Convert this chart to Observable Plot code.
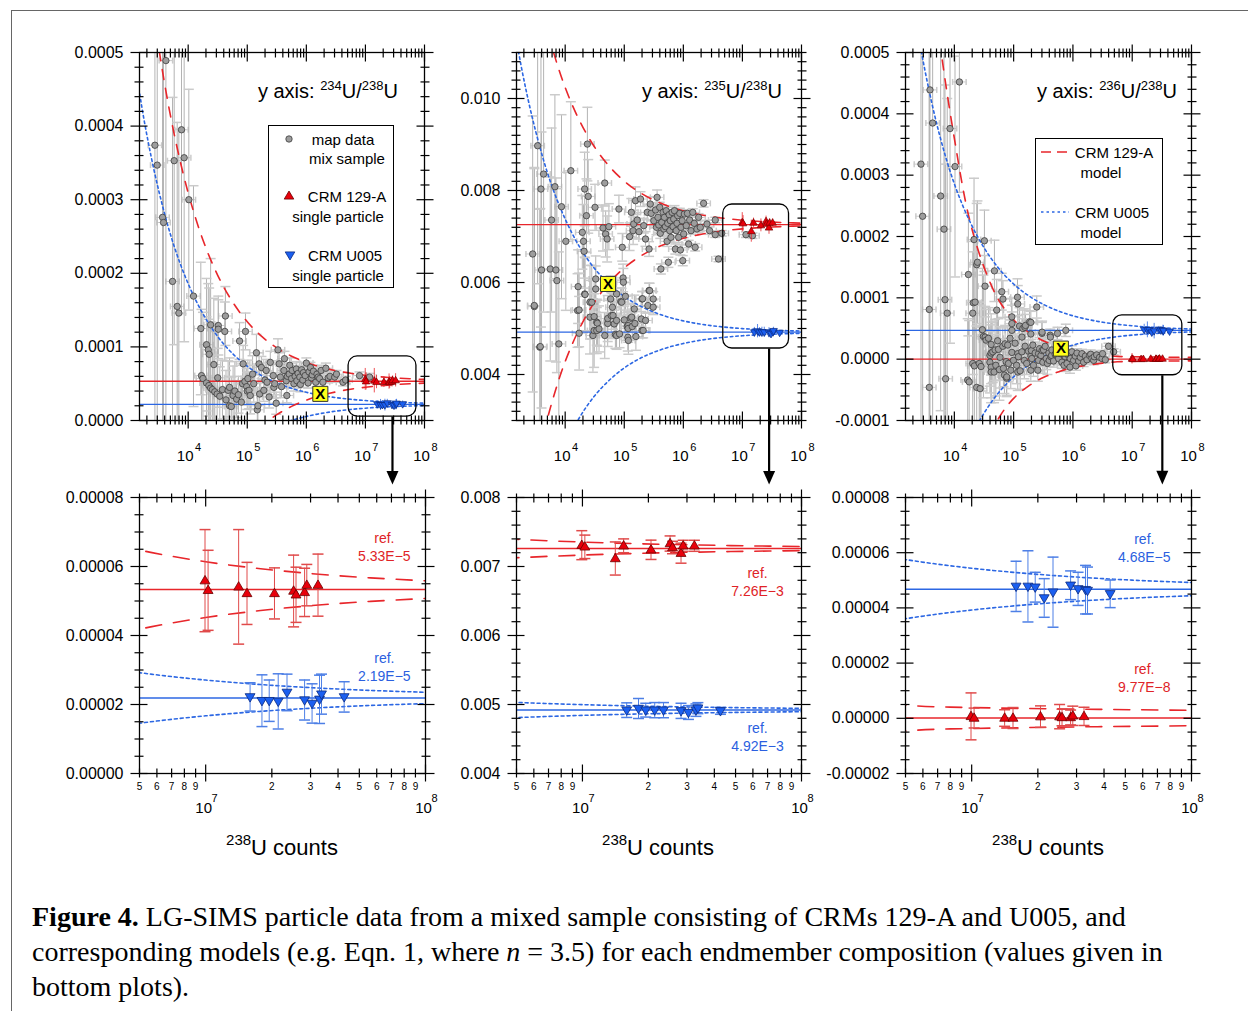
<!DOCTYPE html>
<html><head><meta charset="utf-8">
<script src="https://cdn.jsdelivr.net/npm/d3@7"></script>
<script src="https://cdn.jsdelivr.net/npm/@observablehq/plot@0.6"></script>
<style>
body{margin:0;background:#fff;}
#fig{position:relative;width:1248px;height:1011px;overflow:hidden;background:#fff;font-family:Arial,"Liberation Sans",Helvetica,sans-serif;color:#000;}
.abs{position:absolute;white-space:nowrap;}
.c{transform:translate(-50%,-50%);}
.sup{position:relative;font-size:13px;top:-8px;}
</style></head><body><div id="fig"></div>
<script>
// ---------------- DATA ----------------
// reference (endmember) ratios
const ref234 = [5.33e-5, 2.19e-5];   // [CRM 129-A, CRM U005]
const ref235 = [7.26e-3, 4.92e-3];
const ref236 = [9.77e-8, 4.68e-5];
const refLabels234 = ["5.33E\u22125", "2.19E\u22125"];
const refLabels235 = ["7.26E\u22123", "4.92E\u22123"];
const refLabels236 = ["9.77E\u22128", "4.68E\u22125"];

// model envelope: 238U counts and half-width of the envelope
const modelN = [1e3, 1.778e3, 3.162e3, 5.623e3, 1e4, 1.778e4, 3.162e4, 5.623e4, 1e5, 1.778e5, 3.162e5, 5.623e5, 1e6, 1.778e6, 3.162e6, 5.623e6, 1e7, 1.778e7, 3.162e7, 5.623e7, 1e8];
const dev234A = [8.08e-4, 6.06e-4, 4.54e-4, 3.41e-4, 2.56e-4, 1.92e-4, 1.44e-4, 1.08e-4, 8.08e-5, 6.06e-5, 4.54e-5, 3.41e-5, 2.56e-5, 1.92e-5, 1.44e-5, 1.08e-5, 8.08e-6, 6.06e-6, 4.54e-6, 3.41e-6, 2.56e-6];
const dev234U = [5.18e-4, 3.88e-4, 2.91e-4, 2.18e-4, 1.64e-4, 1.23e-4, 9.21e-5, 6.91e-5, 5.18e-5, 3.88e-5, 2.91e-5, 2.18e-5, 1.64e-5, 1.23e-5, 9.21e-6, 6.91e-6, 5.18e-6, 3.88e-6, 2.91e-6, 2.18e-6, 1.64e-6];
const dev235A = [9.43e-3, 7.07e-3, 5.30e-3, 3.98e-3, 2.98e-3, 2.24e-3, 1.68e-3, 1.26e-3, 9.43e-4, 7.07e-4, 5.30e-4, 3.98e-4, 2.98e-4, 2.24e-4, 1.68e-4, 1.26e-4, 9.43e-5, 7.07e-5, 5.30e-5, 3.98e-5, 2.98e-5];
const dev235U = [7.76e-3, 5.82e-3, 4.37e-3, 3.27e-3, 2.46e-3, 1.84e-3, 1.38e-3, 1.04e-3, 7.76e-4, 5.82e-4, 4.37e-4, 3.27e-4, 2.46e-4, 1.84e-4, 1.38e-4, 1.04e-4, 7.76e-5, 5.82e-5, 4.37e-5, 3.27e-5, 2.46e-5];
const dev236A = [1.6e-3, 1.1e-3, 7.3e-4, 5.2e-4, 3.6e-4, 2.3e-4, 1.5e-4, 9.6e-5, 6.4e-5, 4.4e-5, 3.0e-5, 2.1e-5, 1.35e-5, 1.0e-5, 6.5e-6, 4.4e-6, 3.8e-6, 3.45e-6, 3.2e-6, 3.0e-6, 2.8e-6];
const dev236U = [7.57e-4, 5.68e-4, 4.26e-4, 3.19e-4, 2.39e-4, 1.80e-4, 1.35e-4, 1.01e-4, 7.57e-5, 5.68e-5, 4.26e-5, 3.19e-5, 2.39e-5, 1.80e-5, 1.35e-5, 1.01e-5, 7.57e-6, 5.68e-6, 4.26e-6, 3.19e-6, 2.39e-6];

// single particles: log10(238U counts), ratio, 1-sigma error
const crmA_logN = [6.997, 7.011, 7.150, 7.188, 7.313, 7.400, 7.411, 7.450, 7.460, 7.511];
const crmA_r234 = [5.59e-5, 5.31e-5, 5.41e-5, 5.22e-5, 5.22e-5, 5.29e-5, 5.18e-5, 5.25e-5, 5.46e-5, 5.46e-5];
const crmA_e234 = [1.48e-5, 1.16e-5, 1.66e-5, 9.0e-6, 7.4e-6, 1.04e-5, 8.0e-6, 7.0e-6, 6.0e-6, 9.0e-6];
const crmA_r235 = [7.309e-3, 7.285e-3, 7.116e-3, 7.300e-3, 7.242e-3, 7.333e-3, 7.275e-3, 7.193e-3, 7.300e-3, 7.300e-3];
const crmA_e235 = [2.1e-4, 1.7e-4, 2.4e-4, 1.0e-4, 1.4e-4, 1.1e-4, 9e-5, 1.45e-4, 8e-5, 8e-5];
const crmA_r236 = [7e-7, 1e-7, 1e-7, 1e-7, 6e-7, 6e-7, 3e-7, 3e-7, 9e-7, 7e-7];
const crmA_e236 = [8.5e-6, 3.6e-6, 3.0e-6, 3.8e-6, 3.9e-6, 4.4e-6, 3.0e-6, 2.7e-6, 3.5e-6, 3.3e-6];
const crmU_logN = [7.202, 7.256, 7.289, 7.330, 7.370, 7.450, 7.484, 7.518, 7.527, 7.630];
const crmU_r234 = [2.22e-5, 2.11e-5, 2.11e-5, 2.09e-5, 2.35e-5, 2.13e-5, 2.03e-5, 2.15e-5, 2.30e-5, 2.22e-5];
const crmU_e234 = [4.1e-6, 7.5e-6, 6.0e-6, 8.0e-6, 5.3e-6, 5.8e-6, 5.7e-6, 7.0e-6, 5.8e-6, 4.4e-6];
const crmU_r235 = [4.918e-3, 4.942e-3, 4.918e-3, 4.918e-3, 4.918e-3, 4.908e-3, 4.884e-3, 4.918e-3, 4.947e-3, 4.908e-3];
const crmU_e235 = [1.06e-4, 1.45e-4, 1.0e-4, 1.1e-4, 1.1e-4, 1.1e-4, 1.0e-4, 9e-5, 8e-5, 5e-5];
const crmU_r236 = [4.78e-5, 4.78e-5, 4.75e-5, 4.36e-5, 4.57e-5, 4.82e-5, 4.69e-5, 4.66e-5, 4.63e-5, 4.51e-5];
const crmU_e236 = [9.1e-6, 1.29e-5, 5.4e-6, 7.0e-6, 1.27e-5, 5.2e-6, 6.0e-6, 8.8e-6, 8.5e-6, 5.0e-6];

// highlighted particle (yellow X): [log10 counts, ratio]
const markX234 = [6.237, 3.62e-5];
const markX235 = [4.725, 5.968e-3];
const markX236 = [5.797, 1.72e-5];

// map data, mix sample: [log10(238U counts), ratio]
const mix234 = [[3.437,3.74e-4],[3.476,3.47e-4],[3.566,2.76e-4],[3.583,2.69e-4],[3.623,4.89e-4],[3.735,1.89e-4],[3.763,3.53e-4],[3.814,1.55e-4],[3.842,1.46e-4],[3.887,3.95e-4],[3.932,3.57e-4],[4.011,3.0e-4],[4.09,1.69e-4],[4.214,1.25e-4],[4.225,6.1e-5],[4.25,5.7e-5],[4.31,1.03e-4],[4.31,5.1e-5],[4.34,9.6e-5],[4.35,4.75e-5],[4.355,9.0e-5],[4.38,1.30e-4],[4.38,4.4e-5],[4.41,4.2e-5],[4.434,7.6e-5],[4.45,3.9e-5],[4.49,3.6e-5],[4.50,5.8e-5],[4.51,1.29e-4],[4.51,1.24e-4],[4.535,3.3e-5],[4.58,4.2e-5],[4.62,1.21e-4],[4.63,1.42e-4],[4.64,2.8e-5],[4.676,4.1e-5],[4.70,4.5e-5],[4.70,2.0e-5],[4.73,1.9e-5],[4.76,3.4e-5],[4.79,4.0e-5],[4.82,2.9e-5],[4.85,3.5e-5],[4.87,1.08e-4],[4.90,2.5e-5],[4.92,5.0e-5],[4.93,7.7e-5],[4.96,5.3e-5],[4.97,1.21e-4],[4.99,4.6e-5],[5.0,4.0e-5],[5.01,5.7e-5],[5.03,4.1e-5],[5.05,3.4e-5],[5.09,6.3e-5],[5.11,5.0e-5],[5.155,9.2e-5],[5.17,1.45e-5],[5.18,2.0e-5],[5.20,7.7e-5],[5.21,3.6e-5],[5.24,7.2e-5],[5.28,4.1e-5],[5.30,5.5e-5],[5.32,6.8e-5],[5.335,5.2e-5],[5.37,3.2e-5],[5.39,7.9e-5],[5.44,6.1e-5],[5.45,4.5e-5],[5.465,5.0e-5],[5.49,2.35e-5],[5.52,9.6e-5],[5.54,7.7e-5],[5.56,5.9e-5],[5.58,4.6e-5],[5.62,6.8e-5],[5.63,8.4e-5],[5.66,5.4e-5],[5.67,3.4e-5],[5.68,6.0e-5],[5.71,6.3e-5],[5.72,7.5e-5],[5.75,5.7e-5],[5.76,6.8e-5],[5.79,5.0e-5],[5.81,6.0e-5],[5.83,7.0e-5],[5.84,5.4e-5],[5.86,6.4e-5],[5.89,5.9e-5],[5.90,4.9e-5],[5.92,6.9e-5],[5.94,5.5e-5],[5.95,6.5e-5],[5.98,6.1e-5],[6.00,7.8e-5],[6.03,5.1e-5],[6.045,6.6e-5],[6.07,7.2e-5],[6.085,5.8e-5],[6.10,6.2e-5],[6.12,6.7e-5],[6.16,5.2e-5],[6.18,6.3e-5],[6.20,5.9e-5],[6.225,5.7e-5],[6.25,6.8e-5],[6.28,5.2e-5],[6.33,7.1e-5],[6.37,5.8e-5],[6.40,6.0e-5],[6.48,5.9e-5],[6.51,6.3e-5],[6.62,5.2e-5],[6.665,5.5e-5],[6.90,6.1e-5],[7.07,5.9e-5]];
const mix235 = [[3.45,6.62e-3],[3.478,5.476e-3],[3.477,5.5e-3],[3.534,8.973e-3],[3.57,4.594e-3],[3.579,4.607e-3],[3.59,8.032e-3],[3.60,6.272e-3],[3.635,8.357e-3],[3.747,6.294e-3],[3.77,7.358e-3],[3.826,8.082e-3],[3.843,6.272e-3],[3.86,6.041e-3],[3.893,4.665e-3],[3.938,7.648e-3],[4.011,6.895e-3],[4.096,8.43e-3],[4.21,5.391e-3],[4.219,5.91e-3],[4.236,5.403e-3],[4.236,4.897e-3],[4.29,7.09e-3],[4.31,6.895e-3],[4.32,6.678e-3],[4.33,8.032e-3],[4.331,5.751e-3],[4.337,5.739e-3],[4.36,7.452e-3],[4.376,9.009e-3],[4.39,7.872e-3],[4.42,5.572e-3],[4.42,5.246e-3],[4.45,5.57e-3],[4.47,4.848e-3],[4.49,5.259e-3],[4.49,4.955e-3],[4.505,7.634e-3],[4.517,6.077e-3],[4.517,5.859e-3],[4.535,5.137e-3],[4.535,4.957e-3],[4.545,5.114e-3],[4.573,4.991e-3],[4.64,7.185e-3],[4.67,8.162e-3],[4.67,4.848e-3],[4.685,7.055e-3],[4.71,6.946e-3],[4.72,5.109e-3],[4.72,5.217e-3],[4.74,7.214e-3],[4.77,5.642e-3],[4.78,5.28e-3],[4.80,5.462e-3],[4.81,5.283e-3],[4.83,5.099e-3],[4.85,4.868e-3],[4.87,5.751e-3],[4.87,5.174e-3],[4.87,4.848e-3],[4.91,7.597e-3],[4.92,4.883e-3],[4.94,5.585e-3],[4.956,5.572e-3],[4.966,6.765e-3],[4.98,6.099e-3],[4.985,6.006e-3],[5.0,5.187e-3],[5.02,5.7e-3],[5.05,5.042e-3],[5.06,4.81e-3],[5.066,5.065e-3],[5.066,5.0e-3],[5.07,4.74e-3],[5.09,6.996e-3],[5.107,5.223e-3],[5.12,7.525e-3],[5.125,5.246e-3],[5.135,5.042e-3],[5.15,7.127e-3],[5.16,7.272e-3],[5.17,5.425e-3],[5.18,5.109e-3],[5.19,7.778e-3],[5.197,4.826e-3],[5.22,7.358e-3],[5.25,7.105e-3],[5.275,7.814e-3],[5.29,5.208e-3],[5.30,5.642e-3],[5.30,4.957e-3],[5.31,5.646e-3],[5.32,4.957e-3],[5.33,7.236e-3],[5.36,6.946e-3],[5.36,5.174e-3],[5.39,7.525e-3],[5.40,5.5e-3],[5.42,6.728e-3],[5.42,5.826e-3],[5.43,5.823e-3],[5.44,7.706e-3],[5.455,7.503e-3],[5.49,5.642e-3],[5.49,5.463e-3],[5.50,7.344e-3],[5.53,7.576e-3],[5.545,7.199e-3],[5.556,7.851e-3],[5.57,7.416e-3],[5.584,7.25e-3],[5.60,7.634e-3],[5.61,7.069e-3],[5.62,6.294e-3],[5.635,7.308e-3],[5.657,7.525e-3],[5.67,7.163e-3],[5.68,7.416e-3],[5.697,7.214e-3],[5.71,7.561e-3],[5.725,6.895e-3],[5.736,7.286e-3],[5.747,6.439e-3],[5.76,7.474e-3],[5.77,7.127e-3],[5.78,7.344e-3],[5.79,6.982e-3],[5.81,7.525e-3],[5.826,7.214e-3],[5.837,7.38e-3],[5.85,7.561e-3],[5.865,6.728e-3],[5.88,7.127e-3],[5.893,7.286e-3],[5.904,7.453e-3],[5.92,6.982e-3],[5.94,7.503e-3],[5.95,6.707e-3],[5.96,7.199e-3],[5.98,7.344e-3],[5.99,6.475e-3],[6.006,7.055e-3],[6.017,7.489e-3],[6.05,7.236e-3],[6.07,7.503e-3],[6.09,6.837e-3],[6.107,7.358e-3],[6.13,7.127e-3],[6.16,7.525e-3],[6.185,7.286e-3],[6.20,6.765e-3],[6.23,7.163e-3],[6.258,7.416e-3],[6.287,7.199e-3],[6.343,7.72e-3],[6.40,7.272e-3],[6.444,7.127e-3],[6.54,7.358e-3],[6.54,7.04e-3],[6.595,6.511e-3],[6.65,7.069e-3],[7.06,7.04e-3],[7.17,7.018e-3]];
const mix236 = [[3.437,3.18e-4],[3.465,2.33e-4],[3.577,8.1e-5],[3.577,-4.6e-5],[3.589,4.39e-4],[3.634,3.85e-4],[3.769,2.66e-4],[3.825,2.12e-4],[3.842,9.7e-5],[3.853,-3.2e-5],[3.88,7.5e-5],[3.927,3.76e-4],[4.011,3.14e-4],[4.085,4.52e-4],[4.225,-3.4e-5],[4.237,1.38e-4],[4.25,-3.7e-5],[4.31,7.5e-5],[4.31,-7e-6],[4.32,9.2e-5],[4.332,1.95e-4],[4.338,-1.1e-5],[4.35,9.3e-5],[4.377,1.54e-4],[4.377,-4.6e-5],[4.39,1.58e-4],[4.42,-7e-6],[4.434,-4.8e-5],[4.45,-1.2e-5],[4.473,4.8e-5],[4.49,3.7e-5],[4.507,1.93e-4],[4.518,1.19e-4],[4.52,3.6e-5],[4.535,3.1e-5],[4.575,3.4e-5],[4.60,6e-6],[4.60,-5e-6],[4.62,-1.3e-5],[4.62,2.4e-5],[4.62,1e-5],[4.62,-2.1e-5],[4.648,1.2e-5],[4.67,-2.1e-5],[4.676,1.44e-4],[4.687,1.5e-5],[4.70,-1.0e-5],[4.715,8.0e-5],[4.73,3.0e-5],[4.744,1.6e-5],[4.76,-1.7e-5],[4.77,3e-6],[4.80,1.10e-4],[4.817,2.1e-5],[4.82,9.8e-5],[4.828,-1.5e-5],[4.845,-2.6e-5],[4.856,2.5e-5],[4.873,-4e-6],[4.88,-3.1e-5],[4.884,-2.9e-5],[4.90,2.3e-5],[4.913,-7e-6],[4.94,3.4e-5],[4.952,-1.8e-5],[4.969,6.9e-5],[4.97,4.7e-5],[4.97,5.8e-5],[4.97,1.1e-5],[4.997,-2e-6],[5.025,2.6e-5],[5.05,-1.0e-5],[5.065,1.01e-4],[5.07,9.0e-5],[5.07,9e-6],[5.07,-2.1e-5],[5.08,4e-6],[5.10,5.4e-5],[5.11,-1.9e-5],[5.138,1.2e-5],[5.14,3.6e-5],[5.155,5.0e-5],[5.18,-2e-6],[5.19,5.2e-5],[5.194,2.1e-5],[5.20,5.5e-5],[5.22,-7e-6],[5.25,1.3e-5],[5.268,6.1e-5],[5.29,5e-6],[5.29,4.1e-5],[5.29,6.0e-5],[5.29,-1.8e-5],[5.30,1.4e-5],[5.307,1e-6],[5.324,2.3e-5],[5.335,-1.0e-5],[5.363,1.0e-5],[5.39,8.5e-5],[5.408,-1.8e-5],[5.42,-2e-6],[5.42,9e-6],[5.436,1.7e-5],[5.46,6e-6],[5.476,4.2e-5],[5.48,4.4e-5],[5.48,1.4e-5],[5.493,-5e-6],[5.504,1.5e-5],[5.532,2.1e-5],[5.55,1e-6],[5.57,-7e-6],[5.594,1.0e-5],[5.60,-2e-6],[5.617,3.9e-5],[5.62,3.6e-5],[5.628,4e-6],[5.64,6e-6],[5.645,1.5e-5],[5.673,-3e-6],[5.70,8e-6],[5.73,1.6e-5],[5.74,4.2e-5],[5.758,1e-6],[5.786,9e-6],[5.814,-5e-6],[5.842,1.2e-5],[5.85,-1e-5],[5.87,4e-6],[5.88,4.7e-5],[5.90,-7e-6],[5.927,6e-6],[5.95,-1.3e-5],[5.955,1e-6],[5.983,1.2e-5],[6.011,-2e-6],[6.04,5e-6],[6.05,-1.1e-5],[6.068,1.0e-5],[6.096,-3e-6],[6.124,3e-6],[6.152,9e-6],[6.18,-5e-6],[6.21,5e-6],[6.237,-1e-6],[6.28,6e-6],[6.30,8e-6],[6.32,1e-6],[6.35,-2e-6],[6.36,4e-6],[6.40,7e-6],[6.45,3e-6],[6.49,1e-6],[6.50,9e-6],[6.546,-1e-6],[6.60,2.1e-5],[6.687,1.2e-5]];
// vertical error of map data by count band (upper log10 bound of each band)
const errBandTop = [3.7, 3.95, 4.2, 4.5, 4.8, 5.2, 5.6, 6.0, 6.5, 9];
const mixErr234 = [6e-4, 2.5e-4, 1.5e-4, 9e-5, 4e-5, 2.5e-5, 1.5e-5, 1e-5, 7e-6, 5e-6];
const mixErr235 = [3e-3, 2e-3, 1.5e-3, 8e-4, 5e-4, 3e-4, 1.6e-4, 1.1e-4, 8e-5, 6e-5];
const mixErr236 = [7e-4, 3.5e-4, 1.8e-4, 1e-4, 5e-5, 3e-5, 1.8e-5, 1e-5, 7e-6, 5e-6];
const mixXErr = 1.3; // multiplicative error on counts

// axis tick values
const decades = [1e3, 1e4, 1e5, 1e6, 1e7, 1e8];
const yMajTL = [0, 1e-4, 2e-4, 3e-4, 4e-4, 5e-4];
const yMajTM = [0.004, 0.006, 0.008, 0.010];
const yMajTR = [-1e-4, 0, 1e-4, 2e-4, 3e-4, 4e-4, 5e-4];
const yMajBL = [0, 2e-5, 4e-5, 6e-5, 8e-5];
const yMajBM = [0.004, 0.005, 0.006, 0.007, 0.008];
const yMajBR = [-2e-5, 0, 2e-5, 4e-5, 6e-5, 8e-5];

// ---------------- DRAWING ----------------
const FONT = 'Arial, "Liberation Sans", Helvetica, sans-serif';
const RED = "#e8262b", BLUE = "#2c67e3", RED_T = "#e02327", BLUE_T = "#2b5fe0";
const fig = document.getElementById("fig");

const R = s => Math.sqrt(s / Math.PI);
const hcap = {draw(c, s) { const r = R(s); c.moveTo(-r, 0); c.lineTo(r, 0); }};
const vcap = {draw(c, s) { const r = R(s); c.moveTo(0, -r); c.lineTo(0, r); }};
const triUp = {draw(c, s) { const r = R(s); c.moveTo(0, -r); c.lineTo(r * 0.95, r * 0.62); c.lineTo(-r * 0.95, r * 0.62); c.closePath(); }};
const triDown = {draw(c, s) { const r = R(s); c.moveTo(0, r); c.lineTo(r * 0.95, -r * 0.62); c.lineTo(-r * 0.95, -r * 0.62); c.closePath(); }};
const arrowHead = {draw(c, s) { const r = R(s); c.moveTo(0, 0); c.lineTo(-r * 0.75, -r * 1.7); c.lineTo(r * 0.75, -r * 1.7); c.closePath(); }};

function bandErr(l, errs) { const i = errBandTop.findIndex(b => l < b); return errs[i < 0 ? errs.length - 1 : i]; }
const mixRows = (pts, errs) => pts.map(([l, v]) => { const n = 10 ** l, e = bandErr(l, errs); return {n, v, lo: v - e, hi: v + e, nlo: n / mixXErr, nhi: n * mixXErr}; });
const spRows = (ls, vs, es) => ls.map((l, i) => ({n: 10 ** l, v: vs[i], lo: vs[i] - es[i], hi: vs[i] + es[i]}));
const modelRows = (dev, ref) => modelN.map((n, i) => ({n, up: ref + dev[i], lo: ref - dev[i]}));

function axisMarks(p) {
  const [x0, x1] = p.xDomain, [y0, y1] = p.yDomain;
  const xMaj = decades.filter(v => v >= x0 && v <= x1 * 1.0001);
  const xMin = [];
  for (let e = 3; e < 8; e++) for (let m = 2; m <= 9; m++) { const v = m * 10 ** e; if (v >= x0 && v <= x1) xMin.push(v); }
  const yMin = [];
  const nStep = Math.round((y1 - y0) / p.yMinorStep);
  for (let i = 0; i <= nStep; i++) { const v = +(y0 + i * p.yMinorStep).toPrecision(8); if (!p.yMajor.some(m => Math.abs(m - v) < p.yMinorStep / 10)) yMin.push(v); }
  const out = [];
  const tk = (anchor, ticks, size, extra = {}) => (anchor === "left" || anchor === "right" ? Plot.axisY : Plot.axisX)({anchor, ticks, tickSize: size, tickFormat: () => "", label: null, strokeWidth: 1.2, ...extra});
  for (const [tx, ty, s] of [[xMaj, p.yMajor, 8.5], [xMin, yMin, 4.5]]) {
    out.push(tk("bottom", tx, s), tk("bottom", tx, s, {dy: -s}), tk("top", tx, s), tk("top", tx, s, {dy: s}));
    out.push(tk("left", ty, s), tk("left", ty, s, {dx: s}), tk("right", ty, s), tk("right", ty, s, {dx: -s}));
  }
  out.push(Plot.axisY({anchor: "left", ticks: p.yMajor, tickSize: 0, tickPadding: 16, tickFormat: p.yFmt, fontSize: 16, label: null}));
  out.push(Plot.axisX({anchor: "bottom", ticks: xMaj, tickSize: 0, tickPadding: p.tenPad, tickFormat: () => "10", dx: p.tenDx, fontSize: 15, label: null}));
  out.push(Plot.axisX({anchor: "bottom", ticks: xMaj, tickSize: 0, tickPadding: p.expPad, tickFormat: d => String(Math.round(Math.log10(d))), dx: p.expDx, fontSize: 11, label: null}));
  if (p.minorLabels) {
    const lab = xMin.map(v => ({v, t: String(Math.round(v / 10 ** Math.floor(Math.log10(v) + 1e-9)))}));
    out.push(Plot.text(lab, {x: "v", text: "t", frameAnchor: "bottom", lineAnchor: "top", dy: 9.5, fontSize: 10, fill: "black"}));
  }
  out.push(Plot.frame({stroke: "black", strokeWidth: 1.3}));
  return out;
}

function draw(p) {
  const chart = Plot.plot({
    width: p.mL + p.fw + 20, height: p.mT + p.fh + p.mB,
    marginLeft: p.mL, marginRight: 20, marginTop: p.mT, marginBottom: p.mB,
    x: {type: "log", domain: p.xDomain, axis: null},
    y: {domain: p.yDomain, axis: null},
    style: {background: "transparent", overflow: "visible", fontFamily: FONT, color: "black"},
    marks: [...p.marks, ...axisMarks(p)]
  });
  chart.style.position = "absolute";
  chart.style.left = p.left + "px";
  chart.style.top = p.top + "px";
  fig.appendChild(chart);
}

function topMarks(iso) {
  const rows = mixRows(iso.mix, iso.mixErr);
  const A = spRows(crmA_logN, iso.rA, iso.eA), U = spRows(crmU_logN, iso.rU, iso.eU);
  const mA = modelRows(iso.devA, iso.ref[0]), mU = modelRows(iso.devU, iso.ref[1]);
  const capC = "#cbcbcb", vC = "#b3b3b3";
  return [
    Plot.ruleY(rows, {y: "v", x1: "nlo", x2: "nhi", stroke: capC, strokeWidth: 1, clip: true}),
    Plot.dot(rows, {x: "nlo", y: "v", symbol: vcap, r: 3, fill: "none", stroke: capC, clip: true}),
    Plot.dot(rows, {x: "nhi", y: "v", symbol: vcap, r: 3, fill: "none", stroke: capC, clip: true}),
    Plot.ruleX(rows, {x: "n", y1: "lo", y2: "hi", stroke: vC, strokeWidth: 1, clip: true}),
    Plot.dot(rows, {x: "n", y: "lo", symbol: hcap, r: 5, fill: "none", stroke: capC, clip: true}),
    Plot.dot(rows, {x: "n", y: "hi", symbol: hcap, r: 5, fill: "none", stroke: capC, clip: true}),
    Plot.ruleY([iso.ref[0]], {stroke: RED, strokeWidth: 1.3}),
    Plot.ruleY([iso.ref[1]], {stroke: BLUE, strokeWidth: 1.3}),
    Plot.line(mA, {x: "n", y: "up", stroke: RED, strokeWidth: 1.6, strokeDasharray: "10,9", curve: "catmull-rom", clip: true}),
    Plot.line(mA, {x: "n", y: "lo", stroke: RED, strokeWidth: 1.6, strokeDasharray: "10,9", curve: "catmull-rom", clip: true}),
    Plot.line(mU, {x: "n", y: "up", stroke: BLUE, strokeWidth: 1.6, strokeDasharray: "2.5,3", curve: "catmull-rom", clip: true}),
    Plot.line(mU, {x: "n", y: "lo", stroke: BLUE, strokeWidth: 1.6, strokeDasharray: "2.5,3", curve: "catmull-rom", clip: true}),
    Plot.dot(rows, {x: "n", y: "v", r: 3.2, fill: "#9d9d9d", stroke: "#3c3c3c", strokeWidth: 0.8, clip: true}),
    Plot.ruleX(A, {x: "n", y1: "lo", y2: "hi", stroke: RED, strokeWidth: 0.8}),
    Plot.ruleX(U, {x: "n", y1: "lo", y2: "hi", stroke: BLUE, strokeWidth: 0.8}),
    Plot.dot(A, {x: "n", y: "v", symbol: triUp, r: 4, fill: "#e8000b", stroke: "#7a0000", strokeWidth: 0.7}),
    Plot.dot(U, {x: "n", y: "v", symbol: triDown, r: 4, fill: "#1b5ff0", stroke: "#0a2a80", strokeWidth: 0.7}),
    Plot.dot([iso.markX], {x: d => 10 ** d[0], y: d => d[1], symbol: "square", r: 8.5, fill: "#ffff1a", stroke: "#333", strokeWidth: 1}),
    Plot.text([iso.markX], {x: d => 10 ** d[0], y: d => d[1], text: () => "X", fontSize: 15, fontWeight: "bold", fill: "black"}),
    Plot.rect([iso.box], {x1: d => d.x1, x2: d => d.x2, y1: d => d.y1, y2: d => d.y2, rx: 9, fill: "none", stroke: "black", strokeWidth: 1.3}),
    Plot.link([iso.arrow], {x1: d => d.x, x2: d => d.x, y1: d => d.y1, y2: d => d.y2, stroke: "black", strokeWidth: 2.2}),
    Plot.dot([iso.arrow], {x: d => d.x, y: d => d.tip, symbol: arrowHead, r: 8, fill: "black", stroke: "none"})
  ];
}

function bottomMarks(iso) {
  const A = spRows(crmA_logN, iso.rA, iso.eA), U = spRows(crmU_logN, iso.rU, iso.eU);
  const mA = modelRows(iso.devA, iso.ref[0]).filter(d => d.n >= 1e6), mU = modelRows(iso.devU, iso.ref[1]).filter(d => d.n >= 1e6);
  const ebR = "#e04a4a", ebB = "#4d7fe6";
  return [
    Plot.ruleY([iso.ref[0]], {stroke: RED, strokeWidth: 1.5}),
    Plot.ruleY([iso.ref[1]], {stroke: BLUE, strokeWidth: 1.5}),
    Plot.line(mA, {x: "n", y: "up", stroke: RED, strokeWidth: 1.6, strokeDasharray: "16,12", curve: "catmull-rom", clip: true}),
    Plot.line(mA, {x: "n", y: "lo", stroke: RED, strokeWidth: 1.6, strokeDasharray: "16,12", curve: "catmull-rom", clip: true}),
    Plot.line(mU, {x: "n", y: "up", stroke: BLUE, strokeWidth: 1.6, strokeDasharray: "3,3", curve: "catmull-rom", clip: true}),
    Plot.line(mU, {x: "n", y: "lo", stroke: BLUE, strokeWidth: 1.6, strokeDasharray: "3,3", curve: "catmull-rom", clip: true}),
    Plot.ruleX(A, {x: "n", y1: "lo", y2: "hi", stroke: ebR, strokeWidth: 1}),
    Plot.dot(A, {x: "n", y: "lo", symbol: hcap, r: 5.5, fill: "none", stroke: ebR}),
    Plot.dot(A, {x: "n", y: "hi", symbol: hcap, r: 5.5, fill: "none", stroke: ebR}),
    Plot.ruleX(U, {x: "n", y1: "lo", y2: "hi", stroke: ebB, strokeWidth: 1}),
    Plot.dot(U, {x: "n", y: "lo", symbol: hcap, r: 5.5, fill: "none", stroke: ebB}),
    Plot.dot(U, {x: "n", y: "hi", symbol: hcap, r: 5.5, fill: "none", stroke: ebB}),
    Plot.dot(A, {x: "n", y: "v", symbol: triUp, r: 5.2, fill: "#e8000b", stroke: "#6a0000", strokeWidth: 0.8}),
    Plot.dot(U, {x: "n", y: "v", symbol: triDown, r: 5.2, fill: "#1b5ff0", stroke: "#0a2a80", strokeWidth: 0.8}),
    Plot.text([iso.annA], {x: d => d.x, y: d => d.y, text: d => "ref.\n" + d.t, fill: RED_T, fontSize: 14, lineHeight: 1.3}),
    Plot.text([iso.annU], {x: d => d.x, y: d => d.y, text: d => "ref.\n" + d.t, fill: BLUE_T, fontSize: 14, lineHeight: 1.3})
  ];
}

const I234 = {ref: ref234, devA: dev234A, devU: dev234U, mix: mix234, mixErr: mixErr234, rA: crmA_r234, eA: crmA_e234, rU: crmU_r234, eU: crmU_e234, markX: markX234,
  box: {x1: 5.19e6, x2: 7.3e7, y1: 5.4e-6, y2: 8.7e-5}, arrow: {x: 2.87e7, y1: 5.4e-6, y2: -7.4e-5, tip: -8.7e-5},
  annA: {x: 6.5e7, y: 6.58e-5, t: refLabels234[0]}, annU: {x: 6.5e7, y: 3.10e-5, t: refLabels234[1]}};
const I235 = {ref: ref235, devA: dev235A, devU: dev235U, mix: mix235, mixErr: mixErr235, rA: crmA_r235, eA: crmA_e235, rU: crmU_r235, eU: crmU_e235, markX: markX235,
  box: {x1: 4.74e6, x2: 6.15e7, y1: 4.565e-3, y2: 7.696e-3}, arrow: {x: 2.83e7, y1: 4.565e-3, y2: 1.82e-3, tip: 1.609e-3},
  annA: {x: 6.3e7, y: 6.79e-3, t: refLabels235[0]}, annU: {x: 6.3e7, y: 4.536e-3, t: refLabels235[1]}};
const I236 = {ref: ref236, devA: dev236A, devU: dev236U, mix: mix236, mixErr: mixErr236, rA: crmA_r236, eA: crmA_e236, rU: crmU_r236, eU: crmU_e236, markX: markX236,
  box: {x1: 4.79e6, x2: 7.0e7, y1: -2.62e-5, y2: 7.15e-5}, arrow: {x: 3.22e7, y1: -2.62e-5, y2: -1.89e-4, tip: -2.043e-4},
  annA: {x: 6.1e7, y: 1.48e-5, t: refLabels236[0]}, annU: {x: 6.1e7, y: 6.21e-5, t: refLabels236[1]}};

const topCommon = {top: 22, mT: 30, fh: 368, mB: 72, mL: 84, xDomain: [1500, 1e8], tenPad: 29.5, tenDx: -3, expPad: 23, expDx: 10};
const botCommon = {top: 480, mT: 17, fh: 276, mB: 50, mL: 84, xDomain: [5e6, 1e8], tenPad: 29, tenDx: -2, expPad: 20.5, expDx: 9, minorLabels: true};

draw({...topCommon, left: 55, fw: 285, yDomain: [0, 5e-4], yMajor: yMajTL, yMinorStep: 2e-5, yFmt: d => d.toFixed(4), marks: topMarks(I234)});
draw({...topCommon, left: 432, fw: 285, yDomain: [0.003, 0.011], yMajor: yMajTM, yMinorStep: 2e-4, yFmt: d => d.toFixed(3), marks: topMarks(I235)});
draw({...topCommon, left: 821, fw: 286, yDomain: [-1e-4, 5e-4], yMajor: yMajTR, yMinorStep: 2e-5, yFmt: d => d.toFixed(4), marks: topMarks(I236)});
draw({...botCommon, left: 55, fw: 286, yDomain: [0, 8e-5], yMajor: yMajBL, yMinorStep: 5e-6, yFmt: d => d.toFixed(5), marks: bottomMarks(I234)});
draw({...botCommon, left: 432, fw: 285, yDomain: [0.004, 0.008], yMajor: yMajBM, yMinorStep: 2e-4, yFmt: d => d.toFixed(3), marks: bottomMarks(I235)});
draw({...botCommon, left: 821, fw: 286, yDomain: [-2e-5, 8e-5], yMajor: yMajBR, yMinorStep: 5e-6, yFmt: d => d.toFixed(5), marks: bottomMarks(I236)});

// ---------------- HTML annotations ----------------
function el(html, style, cls = "abs") { const d = document.createElement("div"); d.className = cls; d.innerHTML = html; Object.assign(d.style, style); fig.appendChild(d); return d; }
// page frame
el("", {left: "11px", top: "10px", width: "1250px", height: "1010px", borderLeft: "1px solid #666", borderTop: "1px solid #666"});
// y-axis titles
const isoTitle = (a) => `y axis: <span class="sup">${a}</span>U/<span class="sup">238</span>U`;
el(isoTitle(234), {right: (1248 - 398) + "px", top: "81px", fontSize: "20px", lineHeight: "20px"});
el(isoTitle(235), {right: (1248 - 782) + "px", top: "81px", fontSize: "20px", lineHeight: "20px"});
el(isoTitle(236), {right: (1248 - 1177) + "px", top: "81px", fontSize: "20px", lineHeight: "20px"});
// x-axis titles
for (const cx of [282, 658, 1048]) el(`<span style="position:relative;top:-10px;font-size:15px">238</span>U counts`, {left: cx + "px", top: "849px", fontSize: "22px", lineHeight: "22px"}, "abs c");
// legend top-left
el("", {left: "268px", top: "125px", width: "124px", height: "161px", border: "1.5px solid #000"});
const sym = (svg, x, y) => el(`<svg width="14" height="14" viewBox="-7 -7 14 14" style="display:block">${svg}</svg>`, {left: x + "px", top: y + "px"}, "abs c");
sym('<circle r="3.2" fill="#9d9d9d" stroke="#3c3c3c" stroke-width="0.8"/>', 289, 139);
sym('<path d="M0,-5L4.8,3.1L-4.8,3.1Z" fill="#e8000b" stroke="#6a0000" stroke-width="0.8"/>', 289, 196);
sym('<path d="M0,5L4.8,-3.1L-4.8,-3.1Z" fill="#1b5ff0" stroke="#0a2a80" stroke-width="0.8"/>', 290, 255);
const lt = (t, x, y) => el(t, {left: x + "px", top: y + "px", fontSize: "15px", lineHeight: "15px"}, "abs c");
lt("map data", 343, 139); lt("mix sample", 347, 158);
lt("CRM 129-A", 347, 196); lt("single particle", 338, 216);
lt("CRM U005", 345, 255); lt("single particle", 338, 275);
// legend top-right
el("", {left: "1035px", top: "138px", width: "126px", height: "105px", border: "1.5px solid #000"});
el('<svg width="30" height="4" style="display:block"><line x1="0" y1="2" x2="30" y2="2" stroke="#e8262b" stroke-width="1.6" stroke-dasharray="10,6"/></svg>', {left: "1041px", top: "150px"});
el('<svg width="28" height="4" style="display:block"><line x1="0" y1="2" x2="28" y2="2" stroke="#2c67e3" stroke-width="1.6" stroke-dasharray="2.5,3"/></svg>', {left: "1041px", top: "210px"});
lt("CRM 129-A", 1114, 152); lt("model", 1101, 172);
lt("CRM U005", 1112, 212); lt("model", 1101, 232);
// caption
el(`<b>Figure 4.</b> LG-SIMS particle data from a mixed sample consisting of CRMs 129-A and U005, and<br>corresponding models (e.g. Eqn. 1, where <i>n</i> = 3.5) for each endmember composition (values given in<br>bottom plots).`,
  {left: "32px", top: "899px", fontFamily: '"Liberation Serif","Times New Roman",serif', fontSize: "28px", lineHeight: "35px"});
</script></body></html>
